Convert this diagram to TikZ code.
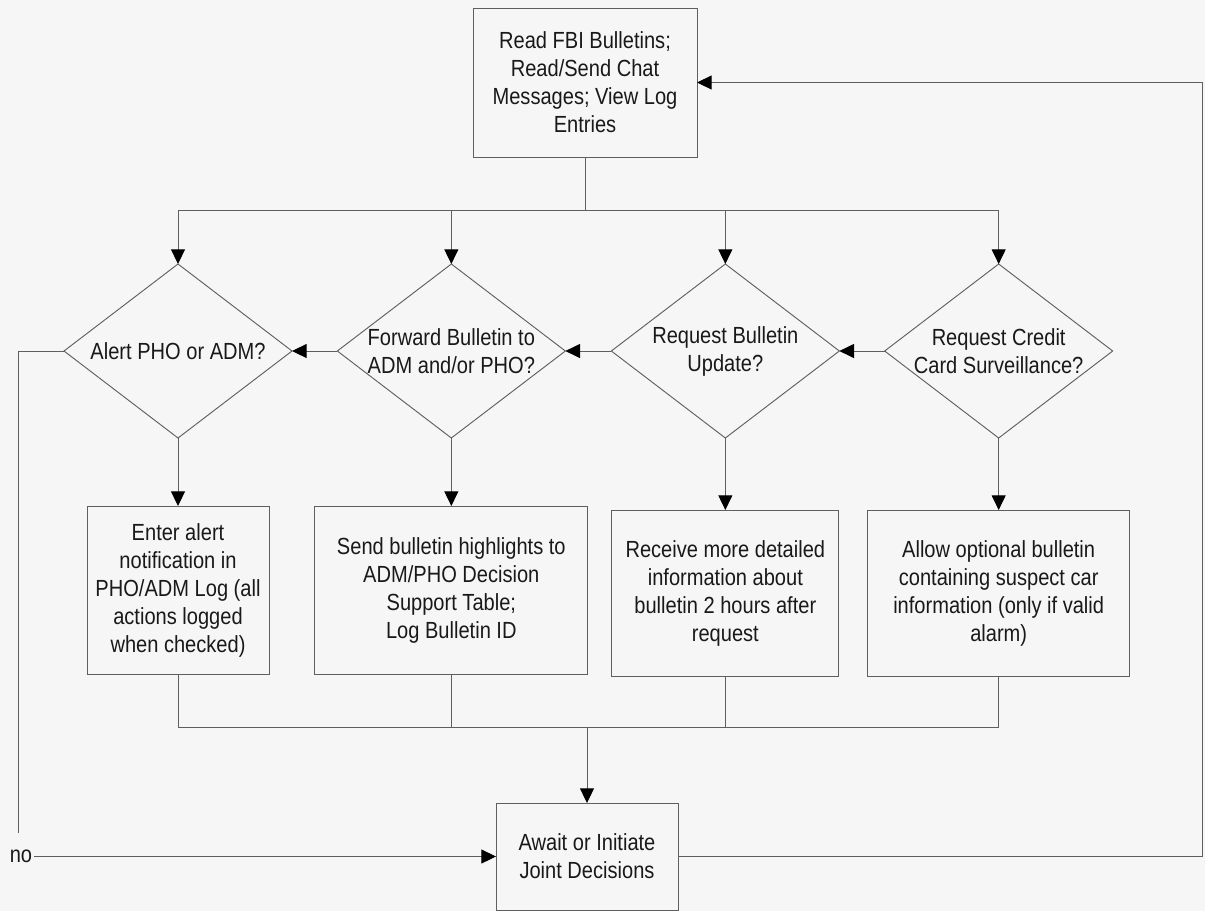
\documentclass[tikz,border=0pt]{standalone}
\usepackage{fontspec}
\setmainfont{Liberation Sans}[FakeStretch=0.86]
\usepackage{tikz}
\usetikzlibrary{arrows.meta, shapes, positioning}
\usepackage{xcolor}
\definecolor{paper}{RGB}{246,246,246}
\definecolor{wire}{RGB}{95,95,95}
\definecolor{ink}{RGB}{25,25,25}

\begin{document}
\begin{tikzpicture}[
    x=0.75pt, y=-0.75pt,
    every node/.style={font=\fontsize{17.5}{21}\selectfont, text=ink},
    stepbox/.style={rectangle, draw=wire, line width=0.7pt, align=center, inner sep=0pt, outer sep=0pt},
    decision/.style={diamond, draw=wire, line width=0.7pt, minimum width=171pt, minimum height=130.5pt, inner sep=0pt, outer sep=0pt},
    arrow/.style={-{Triangle[length=11pt, width=10.5pt, color=black]}, draw=wire, line width=0.7pt},
    wireline/.style={draw=wire, line width=0.7pt}
]
    \useasboundingbox (0,0) rectangle (1205,911);
    \fill[paper] (0,0) rectangle (1205,911);

    \node[stepbox, minimum width=168pt, minimum height=111.75pt] (read) at (585,82.5) {Read FBI Bulletins;\\Read/Send Chat\\Messages; View Log\\Entries};

    \node[decision, label={[align=center]center:{Alert PHO or ADM?}}] (alert) at (178,351) {};
    \node[decision, right=34pt of alert, label={[align=center]center:{Forward Bulletin to\\ADM and/or PHO?}}] (forward) {};
    \node[decision, right=34.5pt of forward, label={[align=center]center:{Request Bulletin\\Update?}}] (update) {};
    \node[decision, right=34pt of update, label={[align=center]center:{Request Credit\\Card Surveillance?}}] (credit) {};

    \node[stepbox, minimum width=136.5pt, minimum height=126pt, below=51pt of alert] (enterlog) {Enter alert\\notification in\\PHO/ADM Log (all\\actions logged\\when checked)};
    \node[stepbox, minimum width=204.75pt, minimum height=126pt, below=51pt of forward] (sendtable) {Send bulletin highlights to\\ADM/PHO Decision\\Support Table;\\Log Bulletin ID};
    \node[stepbox, minimum width=170.25pt, minimum height=124.5pt, below=54pt of update] (detailed) {Receive more detailed\\information about\\bulletin 2 hours after\\request};
    \node[stepbox, minimum width=196.5pt, minimum height=124.5pt, below=54pt of credit] (carinfo) {Allow optional bulletin\\containing suspect car\\information (only if valid\\alarm)};

    \node[stepbox, minimum width=136.5pt, minimum height=80.25pt] (await) at (587,856.5) {Await or Initiate\\Joint Decisions};
    \node[inner sep=1pt] (no) at (21,856.5) {no};

    \coordinate (fanout) at (585,210);
    \coordinate (fanin) at (587,727);
    \coordinate (nodrop) at (18,833);
    \coordinate (backup) at (1202,82.5);

    % fan out to the four questions
    \draw[wireline] (read) -- (fanout);
    \draw[wireline] (alert.north |- fanout) -- (credit.north |- fanout);
    \foreach \q in {alert, forward, update, credit}
        \draw[arrow] (\q.north |- fanout) -- (\q);

    % questions, right to left
    \draw[arrow] (credit) -- (update);
    \draw[arrow] (update) -- (forward);
    \draw[arrow] (forward) -- (alert);

    \draw[arrow] (alert) -- (enterlog);
    \draw[arrow] (forward) -- (sendtable);
    \draw[arrow] (update) -- (detailed);
    \draw[arrow] (credit) -- (carinfo);

    % join into the decision box
    \foreach \b in {enterlog, sendtable, detailed, carinfo}
        \draw[wireline] (\b) -- (\b.south |- fanin);
    \draw[wireline] (enterlog.south |- fanin) -- (carinfo.south |- fanin);
    \draw[arrow] (fanin) -- (await);

    % loops
    \draw[wireline] (alert) -| (nodrop);
    \draw[arrow] (no) -- (await);
    \draw[arrow] (await) -| (backup) -- (read);
\end{tikzpicture}
\end{document}
